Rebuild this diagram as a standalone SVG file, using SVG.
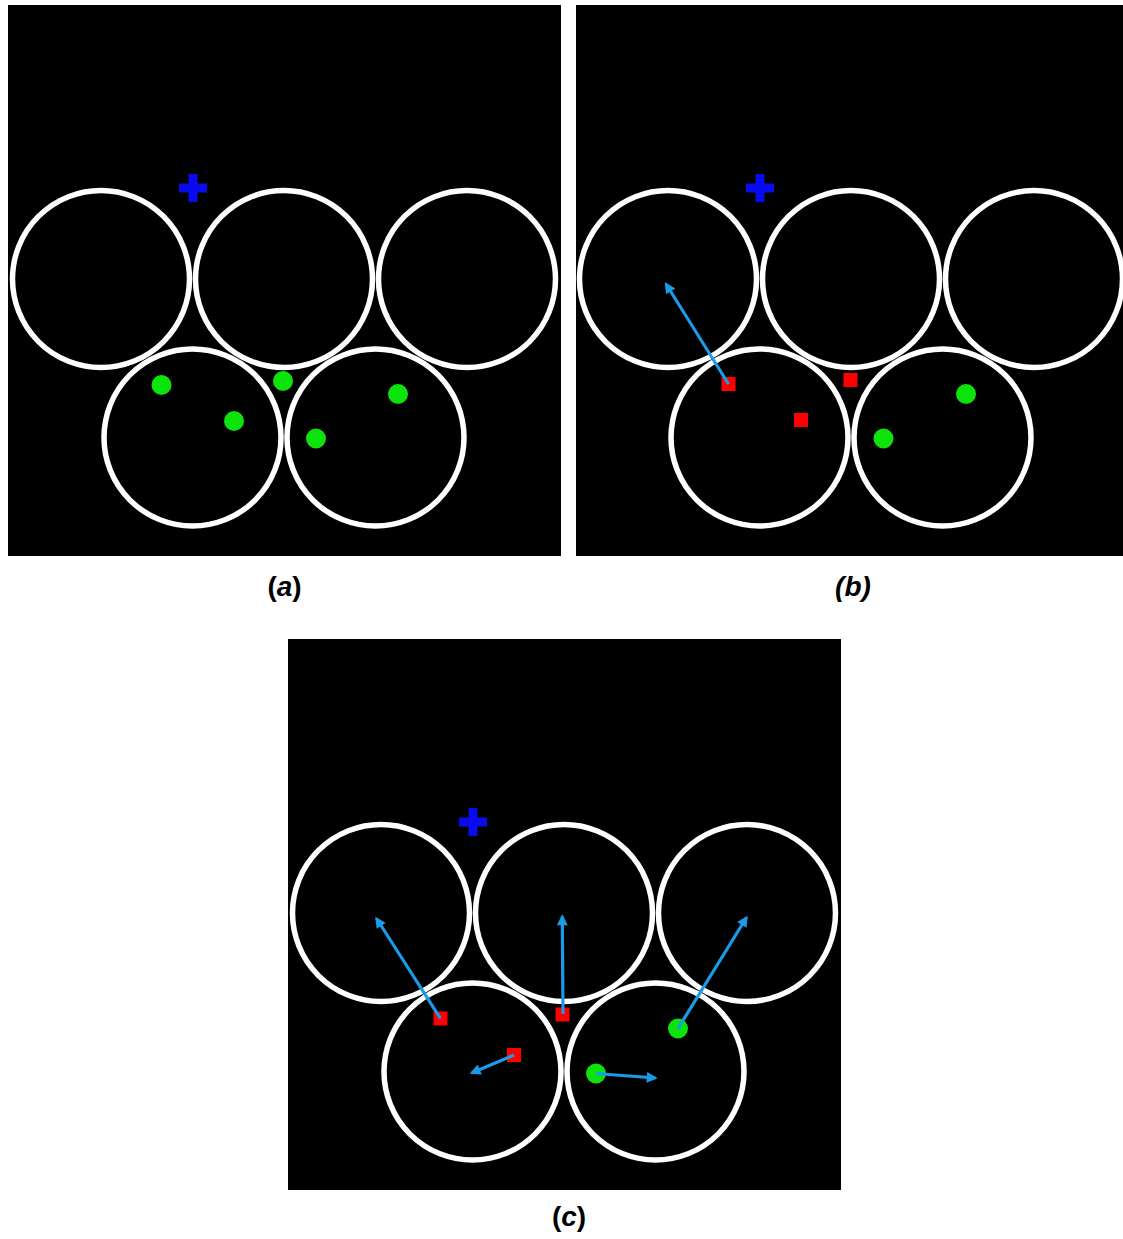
<svg xmlns="http://www.w3.org/2000/svg" width="1123" height="1239" viewBox="0 0 1123 1239">
<style>
.bg{fill:#000}
.ring{fill:none;stroke:#fff;stroke-width:5.5}
.plus{fill:#0a0aee}
.dot{fill:#0be30b}
.sq{fill:#f00}
.arr{stroke:#1a9be8;stroke-width:3.2;fill:none;marker-end:url(#ah)}
.lbl{font-family:"Liberation Sans",Arial,sans-serif;font-size:28px;font-weight:bold;fill:#000;text-anchor:middle}
</style>
<defs>
<marker id="ah" viewBox="0 0 10 10" refX="8" refY="5" markerWidth="3.8" markerHeight="3.4" orient="auto" markerUnits="strokeWidth">
<path d="M0,0 L10,5 L0,10 z" fill="#1a9be8"/>
</marker>
<g id="rings">
<circle class="ring" cx="101" cy="279" r="88.5"/>
<circle class="ring" cx="284" cy="279" r="88.5"/>
<circle class="ring" cx="467" cy="279" r="88.5"/>
<circle class="ring" cx="192.5" cy="437.5" r="88.5"/>
<circle class="ring" cx="375.5" cy="437.5" r="88.5"/>
</g>
<path id="plusShape" class="plus" d="M188.5,174 h9 v9.5 h9.5 v9 h-9.5 v9.5 h-9 v-9.5 h-9.5 v-9 h9.5 z"/>
</defs>
<rect width="1123" height="1239" fill="#fff"/>

<g id="panel-a">
<rect class="bg" x="8" y="5" width="553" height="551"/>
<use href="#rings"/>
<use href="#plusShape"/>
<g id="a-nodes">
<circle id="a-n1" class="dot" cx="161.5" cy="385" r="10"/>
<circle id="a-n2" class="dot" cx="283" cy="381" r="10"/>
<circle id="a-n3" class="dot" cx="234" cy="421" r="10"/>
<circle id="a-n4" class="dot" cx="316" cy="438.5" r="10"/>
<circle id="a-n5" class="dot" cx="398" cy="394" r="10"/>
</g>
</g>

<g id="panel-b">
<rect class="bg" x="576" y="5" width="547" height="551"/>
<g transform="translate(567,0)">
<use href="#rings"/>
<use href="#plusShape"/>
<g id="b-nodes">
<rect id="b-n1" class="sq" x="154.5" y="377" width="14" height="14"/>
<rect id="b-n2" class="sq" x="276.5" y="373" width="14" height="14"/>
<rect id="b-n3" class="sq" x="227" y="413" width="14" height="14"/>
<circle id="b-n4" class="dot" cx="316.5" cy="438.5" r="10"/>
<circle id="b-n5" class="dot" cx="399" cy="394" r="10"/>
</g>
<g id="b-connectors">
<line class="arr" x1="161.5" y1="384" x2="99" y2="284"/>
</g>
</g>
</g>

<g id="panel-c" transform="translate(280,634)">
<rect class="bg" x="8" y="5" width="553" height="551"/>
<use href="#rings"/>
<use href="#plusShape"/>
<g id="c-nodes">
<rect id="c-n1" class="sq" x="153.5" y="377.5" width="14" height="14"/>
<rect id="c-n2" class="sq" x="275.5" y="373.5" width="14" height="14"/>
<rect id="c-n3" class="sq" x="227" y="414" width="14" height="14"/>
<circle id="c-n4" class="dot" cx="316" cy="439.5" r="10"/>
<circle id="c-n5" class="dot" cx="398" cy="394.5" r="10"/>
</g>
<g id="c-connectors">
<line class="arr" x1="160.5" y1="384.5" x2="96.5" y2="284.5"/>
<line class="arr" x1="283" y1="380" x2="282.3" y2="282.5"/>
<line class="arr" x1="398" y1="394.5" x2="466.5" y2="283.5"/>
<line class="arr" x1="234" y1="421" x2="191.7" y2="439"/>
<line class="arr" x1="316" y1="439.5" x2="375.5" y2="444"/>
</g>
</g>

<g id="labels">
<text class="lbl" x="284.5" y="596">(<tspan font-style="italic">a</tspan>)</text>
<text class="lbl" x="853" y="596" font-style="italic">(b)</text>
<text class="lbl" x="569" y="1226">(<tspan font-style="italic">c</tspan>)</text>
</g>
</svg>
